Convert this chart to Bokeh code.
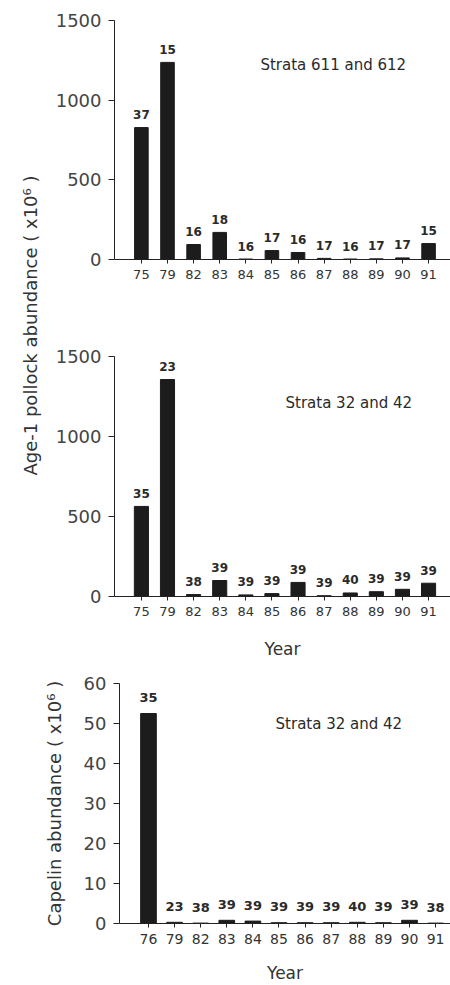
import math
from bokeh.plotting import figure
from bokeh.models import Range1d, FixedTicker, Label, ColumnDataSource
from bokeh.layouts import column, row
from bokeh.core.properties import value
from bokeh.embed import file_html
from bokeh.resources import INLINE

# ---------------- data ----------------
years_pollock = ["75", "79", "82", "83", "84", "85", "86", "87", "88", "89", "90", "91"]
pollock_611_612 = [828, 1237, 94, 170, 3, 56, 44, 7, 3, 4, 10, 100]
n_611_612 = [37, 15, 16, 18, 16, 17, 16, 17, 16, 17, 17, 15]
pollock_32_42 = [563, 1356, 12, 100, 10, 18, 88, 5, 22, 30, 45, 83]
n_pollock_32_42 = [35, 23, 38, 39, 39, 39, 39, 39, 40, 39, 39, 39]

years_capelin = ["76", "79", "82", "83", "84", "85", "86", "87", "88", "89", "90", "91"]
capelin_32_42 = [52.5, 0.3, 0.1, 0.8, 0.6, 0.2, 0.2, 0.2, 0.3, 0.2, 0.8, 0.1]
n_capelin_32_42 = [35, 23, 38, 39, 39, 39, 39, 39, 40, 39, 39, 38]

pollock_yticks = [0, 500, 1000, 1500]
capelin_yticks = [0, 10, 20, 30, 40, 50, 60]

FONT = "DejaVu Sans"
TXT = "#333333"
BAR = "#1c1c1c"


def panel(years, vals, counts, width, height, mb_left, mb_top, mb_bottom,
          xr, ymax, yticks, strata, strata_xy, bar_w, xfont, nfont, xlabel=None,
          xlabel_standoff=10, label_off=-13):
    p = figure(width=width, height=height, output_backend="svg", toolbar_location=None,
               x_range=Range1d(*xr), y_range=Range1d(0, ymax),
               min_border_left=mb_left, min_border_right=0,
               min_border_top=mb_top, min_border_bottom=mb_bottom)
    p.outline_line_color = None
    p.xgrid.visible = False
    p.ygrid.visible = False
    idx = list(range(len(years)))
    src = ColumnDataSource(dict(x=idx, top=vals, n=[str(c) for c in counts]))
    p.vbar(x="x", top="top", width=bar_w, bottom=0, source=src,
           fill_color=BAR, line_color=BAR)
    p.text(x="x", y="top", text="n", source=src, y_offset=label_off,
           text_align="center", text_baseline="middle",
           text_font=value(FONT), text_font_size=nfont, text_font_style="bold",
           text_color="#2a2a2a")
    # axes
    p.xaxis.ticker = FixedTicker(ticks=idx)
    p.xaxis.major_label_overrides = {i: y for i, y in enumerate(years)}
    p.xaxis.major_tick_in = 0
    p.xaxis.major_tick_out = 4
    p.xaxis.minor_tick_line_color = None
    p.xaxis.major_label_text_font = FONT
    p.xaxis.major_label_text_font_size = xfont
    p.xaxis.major_label_text_color = TXT
    p.xaxis.major_label_standoff = 6
    p.xaxis.axis_line_color = "#222222"
    p.xaxis.major_tick_line_color = "#222222"
    if xlabel:
        p.xaxis.axis_label = xlabel
        p.xaxis.axis_label_text_font = FONT
        p.xaxis.axis_label_text_font_size = "17px"
        p.xaxis.axis_label_text_font_style = "normal"
        p.xaxis.axis_label_text_color = TXT
        p.xaxis.axis_label_standoff = xlabel_standoff
    p.yaxis.ticker = FixedTicker(ticks=yticks)
    p.yaxis.major_tick_in = 0
    p.yaxis.major_tick_out = 6
    p.yaxis.minor_tick_line_color = None
    p.yaxis.major_label_text_font = FONT
    p.yaxis.major_label_text_font_size = "18px"
    p.yaxis.major_label_text_color = "#444444"
    p.yaxis.major_label_standoff = 7
    p.yaxis.axis_line_color = "#222222"
    p.yaxis.major_tick_line_color = "#222222"
    p.add_layout(Label(x=strata_xy[0], y=strata_xy[1], text=strata,
                       text_font=FONT, text_font_size="15px", text_color="#2a2a2a",
                       text_align="left", text_baseline="middle"))
    return p


top = panel(years_pollock, pollock_611_612, n_611_612, 405, 300, 69, 20, 41,
            (-1.03, 11.84), 1500, pollock_yticks, "Strata 611 and 612", (4.56, 1218),
            0.52, "13px", "12px")
mid = panel(years_pollock, pollock_32_42, n_pollock_32_42, 405, 365, 69, 56, 69,
            (-1.03, 11.84), 1500, pollock_yticks, "Strata 32 and 42", (5.52, 1212),
            0.54, "13px", "12px", xlabel="Year", xlabel_standoff=20)
bot = panel(years_capelin, capelin_32_42, n_capelin_32_42, 450, 320, 119, 18, 62,
            (-1.11, 11.57), 60, capelin_yticks, "Strata 32 and 42", (4.87, 50),
            0.6, "14px", "13px", xlabel="Year", xlabel_standoff=16, label_off=-16)
bot.yaxis.axis_label = "Capelin abundance ( x10\u2076 )"
bot.yaxis.axis_label_text_font = FONT
bot.yaxis.axis_label_text_font_size = "18px"
bot.yaxis.axis_label_text_font_style = "normal"
bot.yaxis.axis_label_text_color = TXT
bot.yaxis.axis_label_standoff = 16

# shared y label for the two pollock panels
lab = figure(width=45, height=665, output_backend="svg", toolbar_location=None,
             x_range=Range1d(0, 45), y_range=Range1d(0, 665),
             min_border=0, min_border_left=0, min_border_right=0,
             min_border_top=0, min_border_bottom=0)
lab.axis.visible = False
lab.grid.visible = False
lab.outline_line_color = None
lab.add_layout(Label(x=30, y=340, text="Age-1 pollock abundance ( x10\u2076 )",
                     angle=math.pi / 2, text_font=FONT, text_font_size="18px",
                     text_color=TXT, text_align="center", text_baseline="middle"))

layout = column(row(lab, column(top, mid, spacing=0), spacing=0), bot, spacing=0)
open("out.html", "w").write(file_html(layout, INLINE))
